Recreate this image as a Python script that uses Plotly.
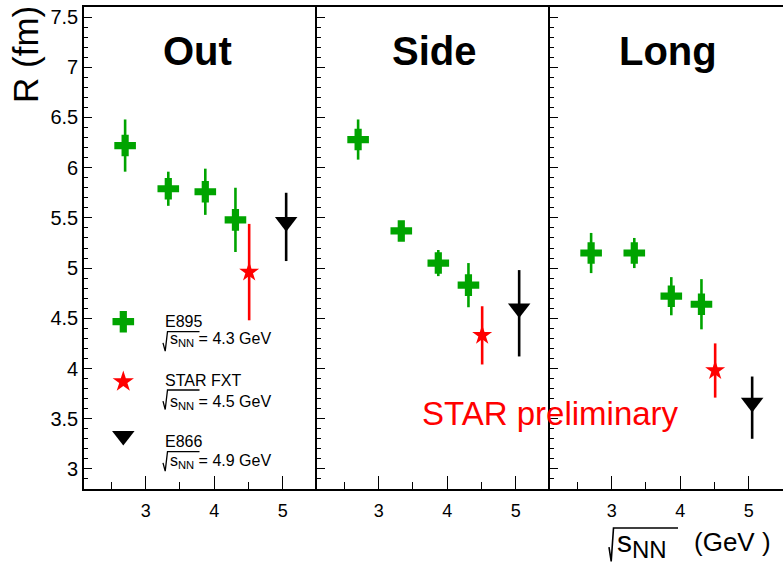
import plotly.graph_objects as go

# ---------------- data ----------------
energy_e895 = [2.70, 3.33, 3.87, 4.31]
energy_star = [4.51]
energy_e866 = [5.05]

panel_names = ["Out", "Side", "Long"]

e895_out = [6.22, 5.79, 5.76, 5.48]
e895_out_err = [0.26, 0.17, 0.23, 0.32]
e895_side = [6.28, 5.37, 5.05, 4.83]
e895_side_err = [0.20, 0.05, 0.13, 0.22]
e895_long = [5.15, 5.15, 4.72, 4.64]
e895_long_err = [0.20, 0.15, 0.19, 0.25]

star_out = [4.96]
star_out_err = [0.48]
star_side = [4.33]
star_side_err = [0.29]
star_long = [3.98]
star_long_err = [0.27]

e866_out = [5.41]
e866_out_err = [0.34]
e866_side = [4.55]
e866_side_err = [0.43]
e866_long = [3.61]
e866_long_err = [0.31]

legend_names = ["E895", "STAR FXT", "E866"]
legend_energies = ["4.3", "4.5", "4.9"]

x_ticks = [3, 4, 5]
y_ticks = [3, 3.5, 4, 4.5, 5, 5.5, 6, 6.5, 7, 7.5]

# ---------------- style ----------------
GREEN = "#00a400"
RED = "#ff0000"
BLACK = "#000000"
FONT = "Liberation Sans, Arial, Helvetica, sans-serif"

W, H = 783, 566
ML, MR, MT, MB = 84, 0, 7, 77
PW, PH = W - ML - MR, H - MT - MB


def px_x(px):
    """pixel column -> paper x"""
    return (px - ML) / PW


def px_y(py):
    """pixel row -> paper y"""
    return (H - MB - py) / PH


series = [
    (e895_out, e895_out_err, star_out, star_out_err, e866_out, e866_out_err),
    (e895_side, e895_side_err, star_side, star_side_err, e866_side, e866_side_err),
    (e895_long, e895_long_err, star_long, star_long_err, e866_long, e866_long_err),
]

fig = go.Figure()

for i, (g, ge, s, se, b, be) in enumerate(series):
    xa = "x" if i == 0 else f"x{i+1}"
    ya = "y" if i == 0 else f"y{i+1}"
    fig.add_trace(go.Scatter(
        x=energy_e895, y=g, xaxis=xa, yaxis=ya, mode="markers", showlegend=False,
        marker=dict(symbol="cross", size=18, color=GREEN, line=dict(width=0)),
        error_y=dict(type="data", array=ge, visible=True, color=GREEN, thickness=2.6, width=0),
    ))
    fig.add_trace(go.Scatter(
        x=energy_star, y=s, xaxis=xa, yaxis=ya, mode="markers", showlegend=False,
        marker=dict(symbol="star", size=15, color=RED, line=dict(width=0)),
        error_y=dict(type="data", array=se, visible=True, color=RED, thickness=2.6, width=0),
    ))
    fig.add_trace(go.Scatter(
        x=energy_e866, y=b, xaxis=xa, yaxis=ya, mode="markers", showlegend=False,
        marker=dict(symbol="triangle-up", angle=180, standoff=5, size=19.5, color=BLACK,
                    line=dict(width=0)),
        error_y=dict(type="data", array=be, visible=True, color=BLACK, thickness=2.6, width=0),
    ))

# ---------- manual legend on an overlay (paper-like) axis ----------
leg_x = [px_x(123.3)] * 3
leg_y = [px_y(321.7), px_y(381.7), px_y(440.8)]
leg_symbols = [dict(symbol="cross", size=18, color=GREEN),
               dict(symbol="star", size=16, color=RED),
               dict(symbol="triangle-up", angle=180, standoff=5, size=19.5, color=BLACK)]
for k in range(3):
    fig.add_trace(go.Scatter(
        x=[leg_x[k]], y=[leg_y[k]], xaxis="x4", yaxis="y4", mode="markers",
        showlegend=False, hoverinfo="skip",
        marker=dict(line=dict(width=0), **leg_symbols[k]),
    ))

# ---------------- axes ----------------
doms = [[0, 1/3], [1/3, 2/3], [2/3, 1]]
for i in range(3):
    sfx = "" if i == 0 else str(i + 1)
    fig.layout[f"xaxis{sfx}"] = dict(
        domain=doms[i], range=[2.1, 5.5], anchor=f"y{sfx}",
        showline=True, linecolor="black", linewidth=1.6, mirror=True,
        ticks="inside", ticklen=13, tickwidth=1.4, tickcolor="black",
        tickvals=x_ticks, ticktext=[str(t) for t in x_ticks],
        minor=dict(ticks="inside", dtick=0.5, tick0=2.5, ticklen=7, tickwidth=1.4, tickcolor="black"),
        showgrid=False, zeroline=False,
        tickfont=dict(family=FONT, size=18, color="black"),
        ticklabelstandoff=5,
    )
    fig.layout[f"yaxis{sfx}"] = dict(
        domain=[0, 1], range=[2.8, 7.6], anchor=f"x{sfx}",
        showline=True, linecolor="black", linewidth=1.6, mirror=False,
        ticks="inside", ticklen=8, tickwidth=1.4, tickcolor="black",
        tickvals=y_ticks, ticktext=[f"{t:g}" for t in y_ticks],
        minor=dict(ticks="inside", dtick=0.1, tick0=3, ticklen=4, tickwidth=1.2, tickcolor="black"),
        showgrid=False, zeroline=False, showticklabels=(i == 0),
        tickfont=dict(family=FONT, size=20, color="black"),
    )

fig.layout["xaxis4"] = dict(domain=[0, 1], range=[0, 1], anchor="y4", visible=False, fixedrange=True)
fig.layout["yaxis4"] = dict(domain=[0, 1], range=[0, 1], anchor="x4", visible=False, fixedrange=True)

# ---------------- text ----------------
ann = []
shapes = []
title_x = [0.486, 0.504, 0.506]
for i, name in enumerate(panel_names):
    sfx = "" if i == 0 else str(i + 1)
    ann.append(dict(text=f"<b>{name}</b>", xref=f"x{sfx} domain", yref=f"y{sfx} domain",
                    x=title_x[i], y=0.909, xanchor="center", yanchor="middle", showarrow=False,
                    font=dict(family=FONT, size=40, color="black")))


def radical(x_left, y_top, height, x_end, width):
    """square-root sign with overline, in pixel units -> paper path"""
    pts = [(x_left, y_top + height * 0.57), (x_left + 2.2, y_top + height),
           (x_left + 4.5, y_top), (x_end, y_top)]
    path = "M " + " L ".join(f"{px_x(a):.5f},{px_y(b):.5f}" for a, b in pts)
    return dict(type="path", xref="paper", yref="paper", path=path,
                line=dict(color="black", width=width))


# legend text
leg_line1 = [321.0, 380.8, 441.0]
leg_line2 = [339.3, 402.3, 461.0]
leg_over = [331.7, 390.0, 451.7]
for k in range(3):
    ann.append(dict(text=legend_names[k], xref="paper", yref="paper", x=px_x(162.7),
                    y=px_y(leg_line1[k]), xanchor="left", yanchor="middle", showarrow=False,
                    font=dict(family=FONT, size=16, color="black")))
    ann.append(dict(text=f"s<sub>NN</sub> = {legend_energies[k]} GeV", xref="paper", yref="paper",
                    x=px_x(167.5), y=px_y(leg_line2[k]), xanchor="left", yanchor="middle",
                    showarrow=False, font=dict(family=FONT, size=16, color="black")))
    shapes.append(radical(163.0, leg_over[k], 19.5, 199.5, 1.3))

# STAR preliminary
ann.append(dict(text="STAR preliminary", xref="paper", yref="paper", x=px_x(550), y=px_y(413),
                xanchor="center", yanchor="middle", showarrow=False,
                font=dict(family=FONT, size=33, color=RED)))

# axis titles
ann.append(dict(text="R (fm)", xref="paper", yref="paper", x=px_x(26), y=px_y(54), textangle=-90,
                xanchor="center", yanchor="middle", showarrow=False,
                font=dict(family=FONT, size=35, color="black")))
ann.append(dict(text="s<sub><span style='font-size:24px'>NN</span></sub>", xref="paper",
                yref="paper", x=px_x(614.5), y=px_y(543.5), xanchor="left", yanchor="middle",
                showarrow=False, font=dict(family=FONT, size=30, color="black")))
ann.append(dict(text="(GeV )", xref="paper", yref="paper", x=px_x(691.5), y=px_y(542),
                xanchor="left", yanchor="middle", showarrow=False,
                font=dict(family=FONT, size=26, color="black")))
shapes.append(radical(609.0, 528.0, 33.5, 678.0, 1.6))

fig.update_layout(
    width=W, height=H, margin=dict(l=ML, r=MR, t=MT, b=MB),
    paper_bgcolor="white", plot_bgcolor="rgba(0,0,0,0)",
    showlegend=False, annotations=ann, shapes=shapes,
    font=dict(family=FONT, color="black"),
)

fig.write_html("out.html")
